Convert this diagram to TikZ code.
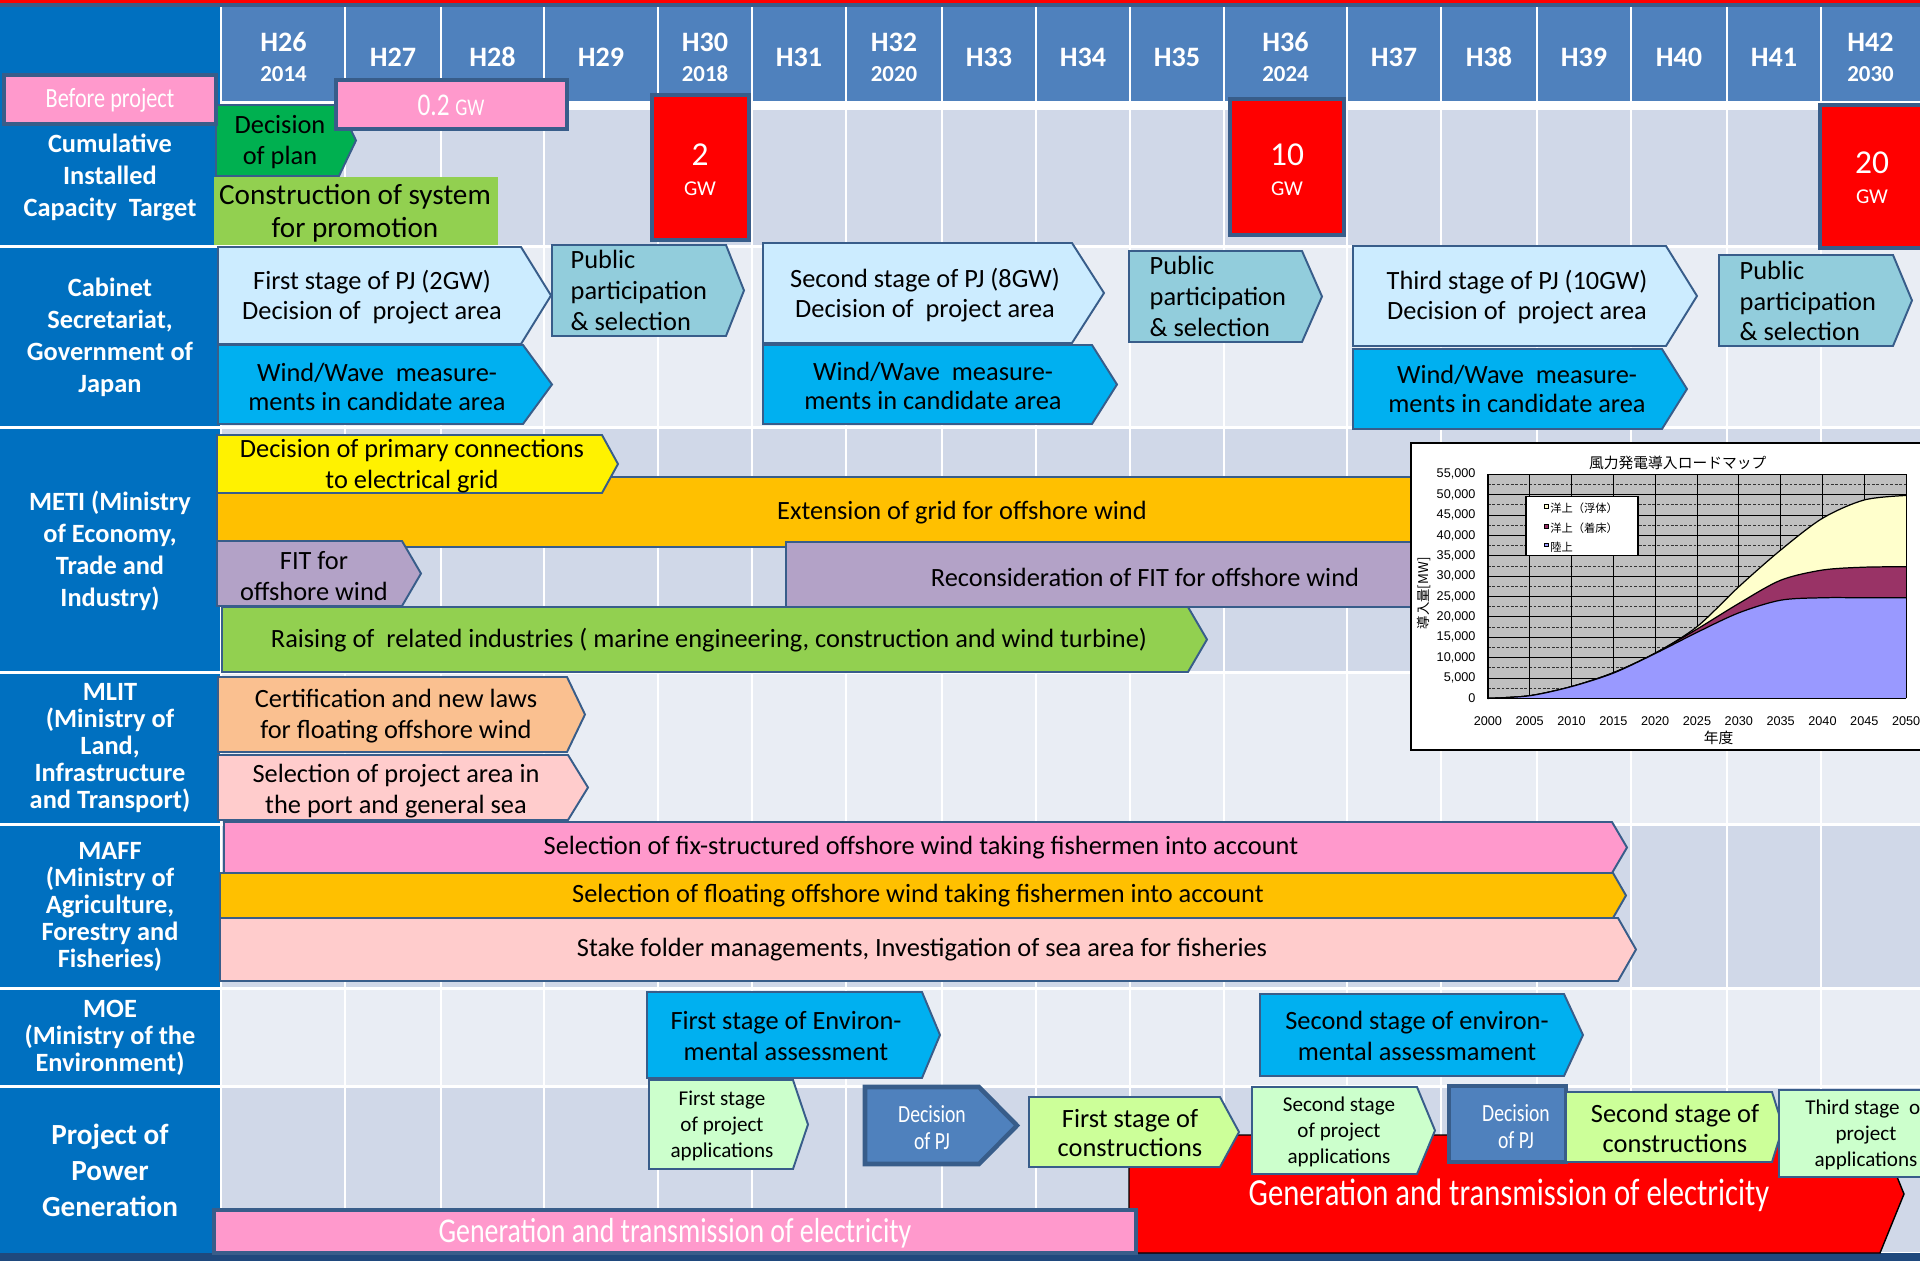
\documentclass[tikz,border=0pt]{standalone}
\usepackage{fontspec}
\setmainfont{Carlito}
\newfontfamily\narrowfont[FakeStretch=0.8]{Carlito}
\newfontfamily\jpfont{Noto Sans CJK JP}
\newfontfamily\chartfont{Liberation Sans}

\definecolor{edgeblue}{HTML}{385D8A}
\definecolor{hdrblue}{HTML}{4F81BD}
\definecolor{colblue}{HTML}{0070C0}
\definecolor{darkband}{HTML}{1F497D}
\definecolor{bandA}{HTML}{D0D8E8}
\definecolor{bandB}{HTML}{E9EDF4}
\definecolor{pinkA}{HTML}{FF99CC}
\definecolor{pinkB}{HTML}{FFCCCC}
\definecolor{orangeA}{HTML}{FFC000}
\definecolor{peach}{HTML}{FAC090}
\definecolor{lilac}{HTML}{B3A2C7}
\definecolor{limeA}{HTML}{92D050}
\definecolor{limeB}{HTML}{CCFF99}
\definecolor{greenA}{HTML}{00B050}
\definecolor{skyA}{HTML}{CCECFF}
\definecolor{cyanA}{HTML}{00B0F0}
\definecolor{tealA}{HTML}{92CDDC}
\definecolor{mintA}{HTML}{CCFFCC}
\definecolor{chartgrey}{HTML}{C0C0C0}
\definecolor{floatcol}{HTML}{FFFFCC}
\definecolor{fixedcol}{HTML}{993366}
\definecolor{landcol}{HTML}{9999FF}

% arrow-shaped bar: style, x left, y top, x body end, x tip, y bottom
\newcommand{\stagebox}[6]{\draw[#1] (#2,#3) -- (#4,#3) -- (#5,{(#3+#6)/2}) -- (#4,#6) -- (#2,#6) -- cycle;}
\newcommand{\yearsize}{\fontsize{6.5}{7}\selectfont}
\newcommand{\gwsize}{\fontsize{6}{7}\selectfont}

\begin{document}
\begin{tikzpicture}[x=0.01cm, y=-0.01cm]
\tikzstyle{bar} = [draw=edgeblue, line width=0.55pt]
\tikzstyle{heavybar} = [draw=edgeblue, line width=1.3pt]
\tikzstyle{txt} = [align=center, inner sep=0pt, text=black, font=\fontsize{7.5}{9}\selectfont]
\tikzstyle{wtxt} = [txt, text=white]
\tikzstyle{pjtxt} = [txt, font=\fontsize{7.5}{8.4}\selectfont]
\tikzstyle{pubtxt} = [txt, anchor=west, align=left, font=\fontsize{7.5}{8.8}\selectfont]
\tikzstyle{apptxt} = [txt, font=\fontsize{6}{7.4}\selectfont]
\tikzstyle{dectxt} = [wtxt, font=\narrowfont\fontsize{7}{7.7}\selectfont]
\tikzstyle{hdr} = [align=center, inner sep=0pt, text=white, font=\bfseries\fontsize{8}{8.5}\selectfont]
\tikzstyle{rowlabel} = [align=center, inner sep=0pt, text=white, font=\bfseries\fontsize{7.5}{9.1}\selectfont]

\useasboundingbox (0,0) rectangle (1920,1261);
\clip (0,0) rectangle (1920,1261);

% frame and grid
\fill[white] (0,0) rectangle (1920,1261);
\fill[red] (0,0) rectangle (1920,3);
\fill[edgeblue] (0,3) rectangle (1920,7);
\fill[darkband] (0,1253) rectangle (1920,1261);
\fill[colblue] (0,7) rectangle (220,1253);
\fill[hdrblue] (222,7) rectangle (1920,101);
\foreach \ya/\yb/\col in {110/245/bandA, 248/426/bandB, 429/671/bandA, 674/823/bandB, 826/987/bandA, 990/1085/bandB, 1088/1252/bandA}
  \fill[\col] (222,\ya) rectangle (1920,\yb);
\foreach \x in {345,441,544,658,752,846,942,1036,1130,1224,1347,1441,1537,1631,1727,1821}
  \draw[white, line width=0.7pt] (\x,7) -- (\x,1252);
\foreach \y in {246.5,427.5,672.5,824.5,988.5,1086.5}
  \draw[white, line width=0.8pt] (0,\y) -- (222,\y);

% header
\foreach \xa/\xb/\lab [count=\i] in {222/345/{H26\\{\yearsize 2014}}, 345/441/H27, 441/544/H28, 544/658/H29,
    658/752/{H30\\{\yearsize 2018}}, 752/846/H31, 846/942/{H32\\{\yearsize 2020}}, 942/1036/H33, 1036/1130/H34,
    1130/1224/H35, 1224/1347/{H36\\{\yearsize 2024}}, 1347/1441/H37, 1441/1537/H38, 1537/1631/H39,
    1631/1727/H40, 1727/1821/H41, 1821/1920/{H42\\{\yearsize 2030}}}
  \node (hd\i) [hdr] at ({(\xa+\xb)/2},57) {\lab};

% row labels
\node (lbtarget) [rowlabel] at (110,177) {Cumulative\\Installed\\Capacity\ \ Target};
\node (lbcabinet) [rowlabel] at (110,337) {Cabinet\\Secretariat,\\Government of\\Japan};
\node (lbmeti) [rowlabel] at (110,551) {METI (Ministry\\of Economy,\\Trade and\\Industry)};
\node (lbmlit) [rowlabel, font=\bfseries\fontsize{7.5}{7.7}\selectfont] at (110,748) {MLIT\\(Ministry of\\Land,\\Infrastructure\\and Transport)};
\node (lbmaff) [rowlabel, font=\bfseries\fontsize{7.5}{7.7}\selectfont] at (110,907) {MAFF\\(Ministry of\\Agriculture,\\Forestry and\\Fisheries)};
\node (lbmoe) [rowlabel, font=\bfseries\fontsize{7.5}{7.6}\selectfont] at (110,1038) {MOE\\(Ministry of the\\Environment)};
\node (lbproject) [rowlabel, font=\bfseries\fontsize{8.3}{10.2}\selectfont] at (110,1170) {Project of\\Power\\Generation};

% capacity target
\stagebox{bar, fill=greenA}{216}{105}{339}{356}{176}
\node (decplan) [txt] at (280,142) {Decision\\of plan};
\fill[limeA] (214,177) rectangle (498,245);
\node (promo) [txt, font=\fontsize{8.3}{9.4}\selectfont] at (355,213) {Construction of system\\for promotion};
\draw[heavybar, fill=pinkA] (4,75) rectangle (216,124);
\node (before) [wtxt, font=\narrowfont\fontsize{7.9}{9}\selectfont] at (110,100) {Before project};
\draw[heavybar, fill=pinkA] (336,80) rectangle (567,129);
\node (gwnow) [wtxt, font=\narrowfont\fontsize{9}{10}\selectfont] at (451,105) {0.2 {\fontsize{6.8}{8}\selectfont GW}};
\draw[heavybar, fill=red] (652,95) rectangle (749,240);
\node (gwtwo) [wtxt, font=\fontsize{9.5}{8.5}\selectfont] at (700,170) {2\\{\gwsize GW}};
\draw[heavybar, fill=red] (1230,99) rectangle (1344,235);
\node (gwten) [wtxt, font=\fontsize{9.5}{8.5}\selectfont] at (1287,170) {10\\{\gwsize GW}};
\draw[heavybar, fill=red] (1820,105) rectangle (1925,248);
\node (gwtwenty) [wtxt, font=\fontsize{9.5}{8.5}\selectfont] at (1872,178) {20\\{\gwsize GW}};

% cabinet secretariat
\stagebox{bar, fill=skyA}{218}{247}{521}{551}{344}
\node (pjone) [pjtxt] at (372,297) {First stage of PJ (2GW)\\Decision of\ \ project area};
\stagebox{bar, fill=cyanA}{218}{345}{523}{552}{424}
\node (wwone) [pjtxt] at (377,387) {Wind/Wave\ \ measure-\\ments in candidate area};
\stagebox{bar, fill=tealA}{552}{245}{726}{744}{336}
\node (pubone) [pubtxt] at (570,290) {Public\\participation\\\& selection};
\stagebox{bar, fill=skyA}{763}{243}{1072}{1104}{343}
\node (pjtwo) [pjtxt] at (925,295) {Second stage of PJ (8GW)\\Decision of\ \ project area};
\stagebox{bar, fill=cyanA}{763}{345}{1092}{1117}{424}
\node (wwtwo) [pjtxt] at (933,386) {Wind/Wave\ \ measure-\\ments in candidate area};
\stagebox{bar, fill=tealA}{1129}{251}{1302}{1322}{342}
\node (pubtwo) [pubtxt] at (1149,296) {Public\\participation\\\& selection};
\stagebox{bar, fill=skyA}{1353}{246}{1666}{1697}{346}
\node (pjthree) [pjtxt] at (1517,297) {Third stage of PJ (10GW)\\Decision of\ \ project area};
\stagebox{bar, fill=cyanA}{1353}{349}{1662}{1687}{429}
\node (wwthree) [pjtxt] at (1517,389) {Wind/Wave\ \ measure-\\ments in candidate area};
\stagebox{bar, fill=tealA}{1719}{255}{1893}{1912}{346}
\node (pubthree) [pubtxt] at (1739,301) {Public\\participation\\\& selection};

% METI
\draw[bar, fill=orangeA] (217,477) rectangle (1420,547);
\node (gridext) [txt] at (962,513) {Extension of grid for offshore wind};
\stagebox{bar, fill=yellow}{217}{435}{602}{618}{493}
\node (primary) [txt] at (412,466) {Decision of primary connections\\to electrical grid};
\stagebox{bar, fill=lilac}{217}{541}{402}{421}{606}
\node (fitone) [txt] at (314,576) {FIT for\\offshore wind};
\draw[bar, fill=lilac] (786,542) rectangle (1420,607);
\node (fittwo) [txt] at (1145,577) {Reconsideration of FIT for offshore wind};
\stagebox{bar, fill=limeA}{222}{607}{1188}{1207}{672}
\node (industry) [txt] at (709,640) {Raising of\ \ related industries ( marine engineering, construction and wind turbine)};

% roadmap chart
\draw[black, line width=0.4pt, fill=white] (1411,443) rectangle (1940,750);
\begin{scope}[xshift=14.87cm, yshift=-6.98cm, x=0.0836cm, y=0.04073cm]
  \fill[chartgrey] (0,0) rectangle (50,55);
  \foreach \v in {2.5,7.5,...,52.5}
    \draw[black!80, line width=0.25pt, dash pattern=on 0.8pt off 0.5pt] (0,\v) -- (50,\v);
  \foreach \v in {5,10,...,55}
    \draw[black, line width=0.25pt] (0,\v) -- (50,\v);
  \foreach \u in {5,10,...,50}
    \draw[black, line width=0.25pt] (\u,0) -- (\u,55);
  \fill[floatcol] (0,0) -- plot[smooth] coordinates {(0,0) (5,0.65) (10,2.9) (15,6.3) (20,11.1) (25,17.6) (30,27.4) (35,36.4) (40,44.2) (45,48.7) (50,49.8)} -- (50,0) -- cycle;
  \draw[black, line width=0.35pt] plot[smooth] coordinates {(0,0) (5,0.65) (10,2.9) (15,6.3) (20,11.1) (25,17.6) (30,27.4) (35,36.4) (40,44.2) (45,48.7) (50,49.8)};
  \fill[fixedcol] (0,0) -- plot[smooth] coordinates {(0,0) (5,0.65) (10,2.9) (15,6.3) (20,11.1) (25,17) (30,23.3) (35,29) (40,31.5) (45,32.2) (50,32.3)} -- (50,0) -- cycle;
  \draw[black, line width=0.35pt] plot[smooth] coordinates {(0,0) (5,0.65) (10,2.9) (15,6.3) (20,11.1) (25,17) (30,23.3) (35,29) (40,31.5) (45,32.2) (50,32.3)};
  \fill[landcol] (0,0) -- plot[smooth] coordinates {(0,0) (5,0.65) (10,2.9) (15,6.2) (20,11) (25,16.2) (30,21) (35,24.1) (40,24.7) (45,24.7) (50,24.7)} -- (50,0) -- cycle;
  \draw[black, line width=0.35pt] plot[smooth] coordinates {(0,0) (5,0.65) (10,2.9) (15,6.2) (20,11) (25,16.2) (30,21) (35,24.1) (40,24.7) (45,24.7) (50,24.7)};
  \draw[black, line width=0.35pt] (50,49.8) -- (50,0);
  \draw[black, line width=0.4pt] (0,55) -- (0,0) -- (50,0);
  \node (ytick0) [anchor=east, inner sep=0pt, font=\chartfont\fontsize{3.6}{4}\selectfont] at (-1.4,0) {0};
  \foreach \v in {5,10,...,55}
    \node (ytick\v) [anchor=east, inner sep=0pt, font=\chartfont\fontsize{3.6}{4}\selectfont] at (-1.4,\v) {\v,000};
  \foreach \u in {0,5,...,50}
    \node (xtick\u) [inner sep=0pt, font=\chartfont\fontsize{3.6}{4}\selectfont] at (\u,-5.65) {\number\numexpr2000+\u\relax};
  \node (chtitle) [inner sep=0pt, font=\jpfont\fontsize{4.2}{5}\selectfont] at (22.7,57.9) {風力発電導入ロードマップ};
  \node (chxlab) [inner sep=0pt, font=\jpfont\fontsize{4.2}{5}\selectfont] at (27.6,-9.6) {年度};
  \node (chylab) [inner sep=0pt, rotate=90, font=\jpfont\fontsize{3.8}{5}\selectfont] at (-7.66,25.8) {導入量[MW]};
  \draw[black, line width=0.35pt, fill=white] (4.55,49.6) rectangle (17.94,35.1);
  \draw[black, line width=0.2pt, fill=floatcol] (6.8,46.7) rectangle (7.2,47.5);
  \draw[black, line width=0.2pt, fill=fixedcol] (6.8,41.8) rectangle (7.2,42.6);
  \draw[black, line width=0.2pt, fill=landcol] (6.8,37.2) rectangle (7.2,38.0);
  \node (lgfloat) [anchor=west, inner sep=0pt, font=\jpfont\fontsize{3.2}{4}\selectfont] at (7.4,46.6) {洋上（浮体）};
  \node (lgfixed) [anchor=west, inner sep=0pt, font=\jpfont\fontsize{3.2}{4}\selectfont] at (7.4,41.7) {洋上（着床）};
  \node (lgland) [anchor=west, inner sep=0pt, font=\jpfont\fontsize{3.2}{4}\selectfont] at (7.4,37.1) {陸上};
\end{scope}

% MLIT
\stagebox{bar, fill=peach}{218}{677}{567}{585}{752}
\node (certif) [txt] at (396,716) {Certification and new laws\\for floating offshore wind};
\stagebox{bar, fill=pinkB}{218}{755}{568}{588}{820}
\node (portarea) [txt] at (396,791) {Selection of project area in\\the port and general sea};

% MAFF
\stagebox{bar, fill=pinkA}{224}{822}{1612}{1627}{873}
\node (fixsel) [txt] at (921,848) {Selection of fix-structured offshore wind taking fishermen into account};
\stagebox{bar, fill=orangeA}{220}{873}{1613}{1626}{918}
\node (floatsel) [txt] at (918,896) {Selection of floating offshore wind taking fishermen into account};
\stagebox{bar, fill=pinkB}{220}{918}{1618}{1636}{981}
\node (stake) [txt] at (922,950) {Stake folder managements, Investigation of sea area for fisheries};

% MOE
\stagebox{bar, fill=cyanA}{647}{992}{922}{940}{1078}
\node (envone) [txt] at (786,1036) {First stage of Environ-\\mental assessment};
\stagebox{bar, fill=cyanA}{1260}{994}{1564}{1583}{1076}
\node (envtwo) [txt] at (1417,1036) {Second stage of environ-\\mental assessmament};

% power generation
\stagebox{fill=red}{1129}{1135}{1880}{1904}{1253}
\node (genred) [wtxt, font=\narrowfont\fontsize{10.9}{12}\selectfont] at (1509,1195) {Generation and transmission of electricity};
\draw[heavybar, fill=pinkA] (214,1210) rectangle (1136,1253);
\node (genpink) [wtxt, font=\narrowfont\fontsize{9.9}{11}\selectfont] at (675,1233) {Generation and transmission of electricity};
\stagebox{bar, fill=mintA}{649}{1080}{793}{808}{1169}
\node (appone) [apptxt] at (722,1126) {First stage\\of project\\applications};
\stagebox{heavybar, fill=hdrblue}{865}{1087}{979}{1017}{1164}
\node (decone) [dectxt] at (932,1128) {Decision\\of PJ};
\stagebox{bar, fill=limeB}{1029}{1097}{1220}{1239}{1167}
\node (conone) [txt, font=\fontsize{7.5}{8.5}\selectfont] at (1130,1133) {First stage of\\constructions};
\stagebox{bar, fill=mintA}{1252}{1087}{1417}{1435}{1174}
\node (apptwo) [apptxt] at (1339,1132) {Second stage\\of project\\applications};
\draw[heavybar, fill=hdrblue] (1449,1086) rectangle (1566,1162);
\node (dectwo) [dectxt] at (1516,1127) {Decision\\of PJ};
\stagebox{bar, fill=limeB}{1566}{1092}{1772}{1783}{1162}
\node (contwo) [txt, font=\fontsize{7.5}{8.5}\selectfont] at (1675,1128) {Second stage of\\constructions};
\stagebox{bar, fill=mintA}{1779}{1090}{1990}{2010}{1177}
\node (appthree) [apptxt] at (1866,1135) {Third stage\ \ of\\project\\applications};
\end{tikzpicture}
\end{document}
